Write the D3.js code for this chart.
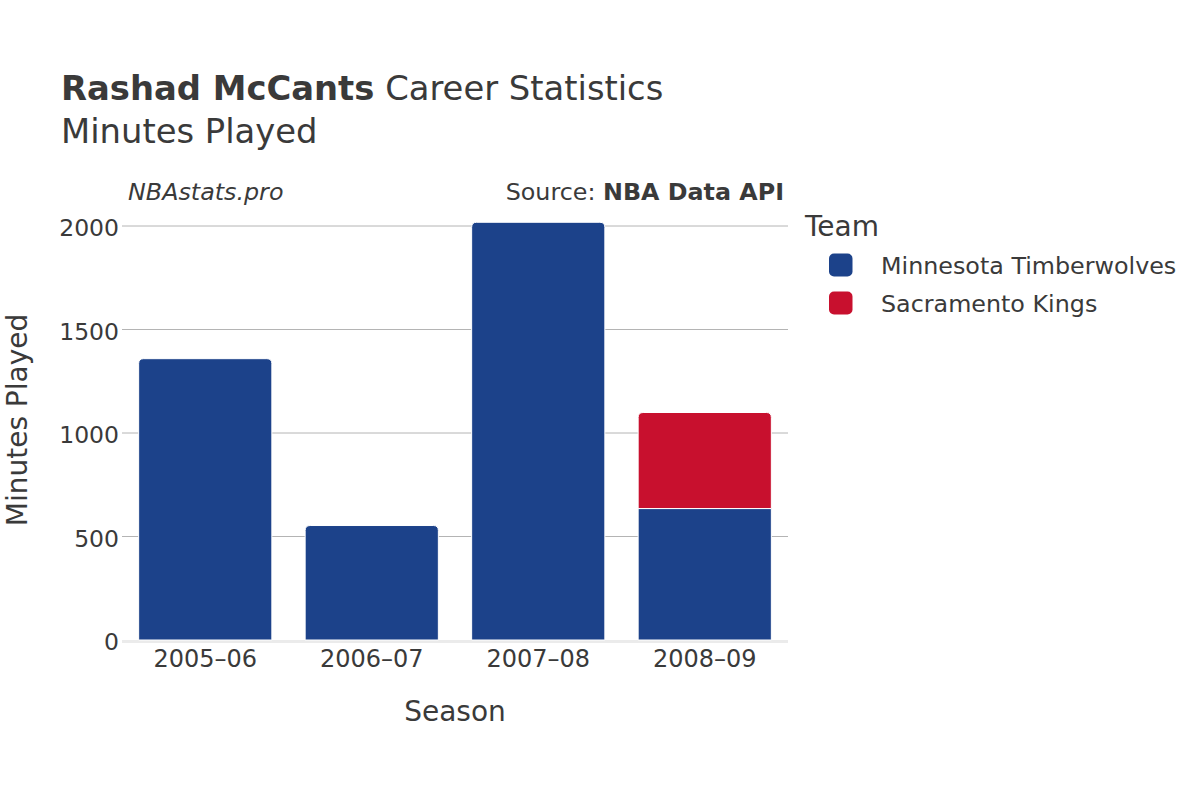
<!DOCTYPE html>
<html><head><meta charset="utf-8">
<script src="https://cdn.jsdelivr.net/npm/d3@7"></script>
<style>body{margin:0;background:#fff}svg{font-family:"DejaVu Sans",sans-serif}</style>
</head><body>
<script>
const seasons = ["2005–06","2006–07","2007–08","2008–09"];
const teams = ["Minnesota Timberwolves","Sacramento Kings"];
const minnesota = [1359, 553, 2018, 635];
const sacramento = [0, 0, 0, 464];
const teamColors = ["#1c428a","#c8102e"];
const yTicks = [0,500,1000,1500,2000];

const W=1200,H=800;
const m={l:122,r:788,t:226,b:640};
const svg=d3.select("body").append("svg").attr("width",W).attr("height",H);
const x=d3.scaleBand().domain(seasons).range([m.l,m.r]).paddingInner(0.2).paddingOuter(0.1);
const y=d3.scaleLinear().domain([0,2000]).range([m.b,m.t]);

// gridlines
svg.append("g").selectAll("line").data(yTicks.filter(d=>d>0)).join("line")
 .attr("x1",m.l).attr("x2",m.r).attr("y1",d=>y(d)).attr("y2",d=>y(d))
 .attr("stroke","#b4b4b4").attr("stroke-width",1);
svg.append("line").attr("x1",m.l).attr("x2",m.r).attr("y1",y(0)+1.5).attr("y2",y(0)+1.5)
 .attr("stroke","#ebebeb").attr("stroke-width",3);

// y axis labels
const yAxis=d3.axisLeft(y).tickValues(yTicks).tickSize(0).tickPadding(3).tickFormat(d3.format("d"));
const ga=svg.append("g").attr("transform",`translate(${m.l},0)`).call(yAxis);
ga.select(".domain").remove();
ga.selectAll("text").attr("font-size",23.5).attr("fill","#3a3a3a").attr("font-family","DejaVu Sans").attr("dy",9.5);

const xAxis=d3.axisBottom(x).tickSize(0).tickPadding(0);
const gx=svg.append("g").attr("transform",`translate(0,${m.b})`).call(xAxis);
gx.select(".domain").remove();
gx.selectAll("text").attr("font-size",24).attr("fill","#3a3a3a").attr("font-family","DejaVu Sans").attr("dy",27).attr("y",0);

// bars
const stack=seasons.map((s,i)=>({s,vals:[minnesota[i],sacramento[i]]}));
const r=5;
function roundTop(x0,y0,w,h,rad){
  rad=Math.min(rad,h,w/2);
  return `M${x0},${y0+h}V${y0+rad}Q${x0},${y0} ${x0+rad},${y0}H${x0+w-rad}Q${x0+w},${y0} ${x0+w},${y0+rad}V${y0+h}Z`;
}
stack.forEach(d=>{
  let base=0;
  const top=d.vals.reduce((a,b)=>a+b,0);
  d.vals.forEach((v,j)=>{
    if(v<=0)return;
    const y0=y(base+v),y1=y(base);
    const isTop=(base+v)===top;
    const x0=x(d.s),w=x.bandwidth();
    svg.append("path")
      .attr("d",isTop?roundTop(x0,y0,w,y1-y0,r):`M${x0},${y1}V${y0}H${x0+w}V${y1}Z`)
      .attr("fill",teamColors[j]).attr("stroke","#fff").attr("stroke-width",1);
    base+=v;
  });
});

// titles
const t=svg.append("text").attr("x",61).attr("y",100).attr("font-size",33.8).attr("fill","#3a3a3a");
t.append("tspan").attr("font-weight","bold").text("Rashad McCants");
t.append("tspan").text(" Career Statistics");
svg.append("text").attr("x",61).attr("y",143).attr("font-size",33.8).attr("fill","#3a3a3a").text("Minutes Played");
svg.append("text").attr("x",128).attr("y",200).attr("font-size",23.8).attr("font-style","italic").attr("fill","#3a3a3a").text("NBAstats.pro");
const src=svg.append("text").attr("x",784).attr("y",200).attr("font-size",23.8).attr("text-anchor","end").attr("fill","#3a3a3a");
src.append("tspan").text("Source: ");
src.append("tspan").attr("font-weight","bold").text("NBA Data API");

svg.append("text").attr("x",455).attr("y",721).attr("font-size",28).attr("text-anchor","middle").attr("fill","#3a3a3a").text("Season");
svg.append("text").attr("transform","translate(27,420) rotate(-90)").attr("font-size",28).attr("text-anchor","middle").attr("fill","#3a3a3a").text("Minutes Played");

// legend
svg.append("text").attr("x",805).attr("y",236).attr("font-size",28).attr("fill","#3a3a3a").text("Team");
const lg=svg.append("g").selectAll("g").data(teams).join("g").attr("transform",(d,i)=>`translate(829,${253.5+i*38})`);
lg.append("rect").attr("width",23.5).attr("height",23).attr("rx",5).attr("fill",(d,i)=>teamColors[i]);
lg.append("text").attr("x",52).attr("y",20.5).attr("font-size",23.8).attr("fill","#3a3a3a").text(d=>d);
</script>
</body></html>
